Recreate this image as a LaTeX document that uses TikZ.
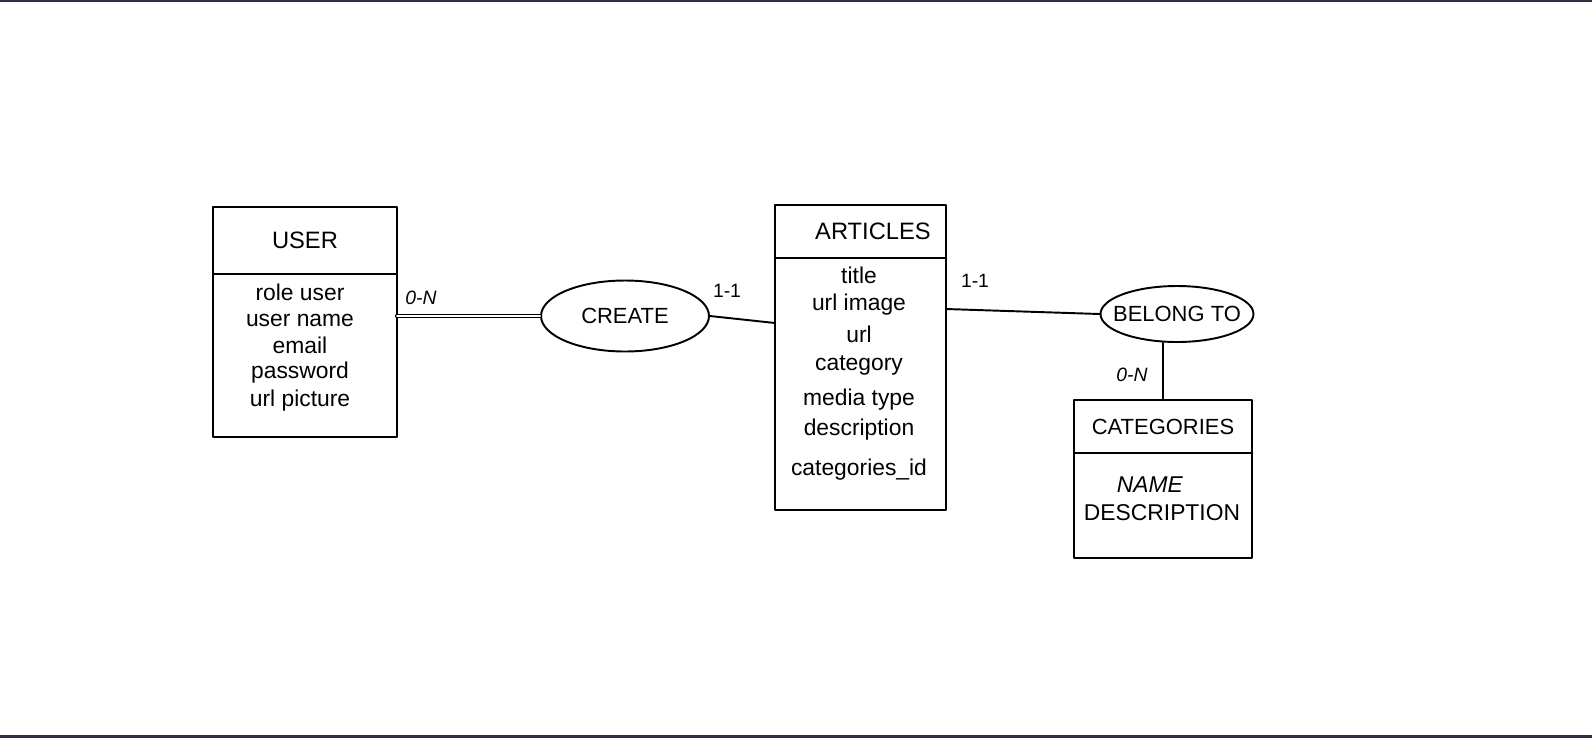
\documentclass[tikz,border=0pt]{standalone}
\usepackage{fontspec}
\setmainfont{Liberation Sans}
\usepackage{tikz}
\usetikzlibrary{positioning,shapes.geometric}
\usepackage{xcolor}
\definecolor{barcol}{HTML}{2D2D47}

\begin{document}
\begin{tikzpicture}[
    x=0.02cm,
    y=-0.02cm,
    line cap=round,
    line join=round,
    enttitle/.style={draw=black, line width=1.1pt, outer sep=0pt, inner sep=0pt, minimum width=#1, minimum height=1.06cm, font=\fontsize{13.5}{16}\selectfont},
    entbody/.style={draw=black, line width=1.1pt, outer sep=0pt, inner sep=0pt, minimum width=#1},
    attr/.style={inner sep=0pt, font=\fontsize{13}{15.4}\selectfont},
    rel/.style={ellipse, draw=black, line width=1.1pt, inner ysep=0pt, inner xsep=-20pt, minimum width=#1, font=\fontsize{12.5}{15}\selectfont},
    link/.style={draw=black, line width=1.1pt},
    card/.style={inner sep=0pt, font=\fontsize{11}{13}\selectfont},
  ]

  \useasboundingbox (0,0) rectangle (1592,738);

  % Dark bars at top and bottom
  \fill[barcol] (0,0) rectangle (1592,2.3);
  \fill[barcol] (0,735) rectangle (1592,738);

  % Entities
  \node[enttitle=3.68cm, minimum height=1.34cm] (usrtitle) at (305,240.5) {USER};
  \node[entbody=3.68cm, minimum height=3.26cm, below=0pt of usrtitle] (usrbody) {};

  \node[enttitle=3.42cm] (arttitle) at (860.5,231.5) {\hspace*{0.5cm}ARTICLES};
  \node[entbody=3.42cm, minimum height=5.04cm, below=0pt of arttitle] (artbody) {};

  \node[enttitle=3.56cm, font=\fontsize{12.5}{15}\selectfont] (cattitle) at (1163,426.5) {CATEGORIES};
  \node[entbody=3.56cm, minimum height=2.1cm, below=0pt of cattitle] (catbody) {};

  % Attribute lists
  \foreach \txt/\yy [count=\k] in {role user/292, user name/320, email/345, password/373, url picture/401}
    \node[attr] (usr\k) at (300,\yy) {\txt};
  \foreach \txt/\yy [count=\k] in {title/275, url image/305, url/334, category/365, media type/400, description/430, categories\_id/470}
    \node[attr] (art\k) at (859,\yy) {\txt};
  \node[attr] (cat1) at (1150,485) {\textit{NAME}};
  \node[attr] (cat2) at (1162,513) {DESCRIPTION};

  % Relationships
  \node[rel=3.36cm, minimum height=1.42cm] (create) at (625,316) {CREATE};
  \node[rel=3.06cm, minimum height=1.12cm] (belong) at (1177,314) {BELONG TO};

  % Links
  \draw[link, line width=0.7pt, double, double distance=1.1pt] (create.west -| usrbody.east) -- (create.west);
  \draw[link] (create.east) -- ([yshift=-0.14cm]create.east -| artbody.west);
  \draw[link] ([yshift=0.1cm]belong.west -| artbody.east) -- (belong.west);
  \draw[link] (cattitle.north) -- (cattitle.north |- belong.south);

  % Cardinalities
  \node[card] (cusr) at (421,298) {\textit{0-N}};
  \node[card] (cart) at (727,291) {1-1};
  \node[card] (bart) at (975,281) {1-1};
  \node[card] (bcat) at (1132,375) {\textit{0-N}};
\end{tikzpicture}
\end{document}
